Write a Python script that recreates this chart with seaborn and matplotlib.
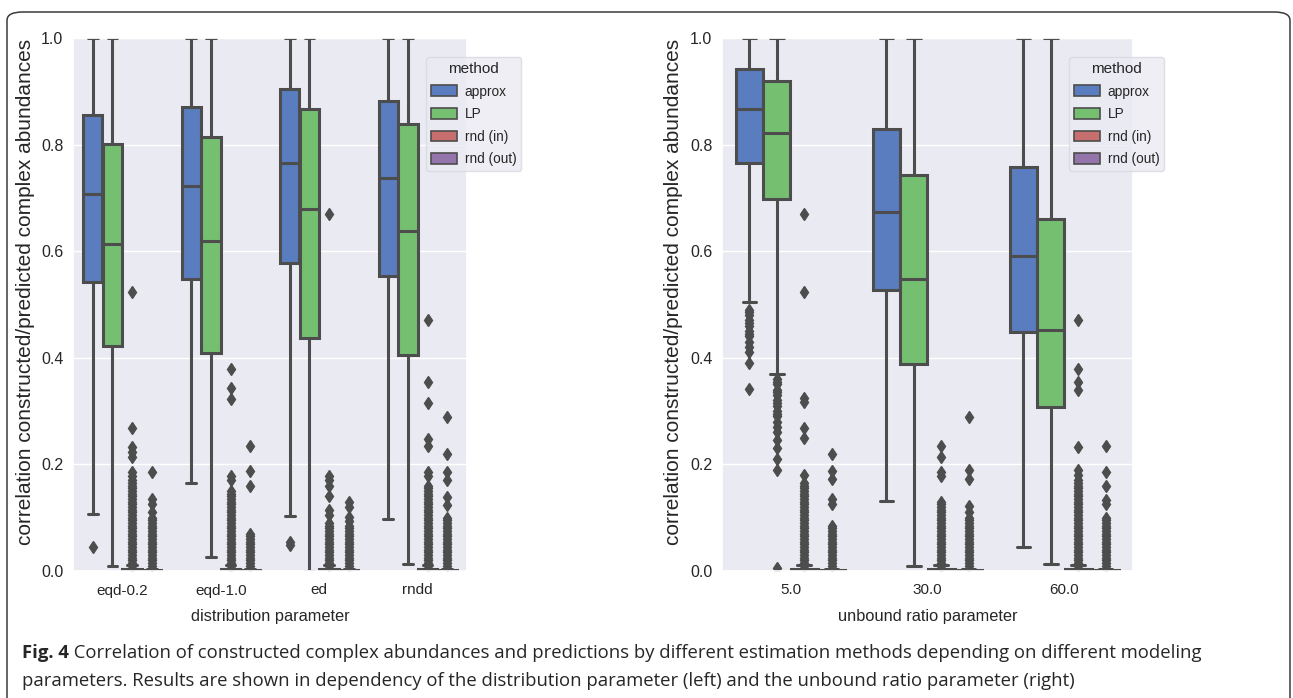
import matplotlib
matplotlib.use('Agg')
import matplotlib.pyplot as plt
from matplotlib.patches import Patch, FancyBboxPatch
import seaborn as sns

methods = ['approx', 'LP', 'rnd (in)', 'rnd (out)']

# left panel: distribution parameter
dist_params = ['eqd-0.2', 'eqd-1.0', 'ed', 'rndd']
# (whislo, q1, median, q3, whishi) per category
dist_approx = [(0.107, 0.542, 0.707, 0.855, 1.0), (0.166, 0.548, 0.722, 0.871, 1.0),
               (0.103, 0.578, 0.766, 0.904, 1.0), (0.098, 0.554, 0.737, 0.882, 1.0)]
dist_lp = [(0.010, 0.422, 0.614, 0.801, 1.0), (0.026, 0.409, 0.620, 0.815, 1.0),
           (0.0, 0.437, 0.680, 0.867, 1.0), (0.014, 0.405, 0.637, 0.838, 1.0)]
dist_rin = [(0.0, 0.0, 0.001, 0.004, 0.012)] * 4
dist_rout = [(0.0, 0.0, 0.0, 0.002, 0.004)] * 4

# the rnd outliers pile up into a solid column near zero
dense_col = [0.170, 0.165, 0.160, 0.155, 0.150, 0.145, 0.140, 0.135, 0.130, 0.125, 0.120,
             0.115, 0.110, 0.105, 0.100, 0.095, 0.090, 0.085, 0.080, 0.075, 0.070, 0.065,
             0.060, 0.055, 0.050, 0.045, 0.040, 0.035, 0.030, 0.025, 0.020, 0.015, 0.010]

dist_fl_approx = [[0.045], [], [0.055, 0.048], []]
dist_fl_lp = [[], [], [], []]
dist_fl_rin = [[0.523, 0.268, 0.233, 0.224, 0.214, 0.185, 0.178],
               [0.379, 0.343, 0.323, 0.178, 0.17],
               [0.670, 0.178, 0.170, 0.160, 0.141, 0.114, 0.105],
               [0.471, 0.355, 0.315, 0.248, 0.235, 0.186, 0.178]]
dist_rin_dense_top = [0.17, 0.15, 0.09, 0.16]
dist_fl_rout = [[0.185, 0.135, 0.125, 0.11],
                [0.235, 0.188, 0.16],
                [0.129, 0.121, 0.101, 0.094],
                [0.289, 0.219, 0.186, 0.17, 0.139, 0.124]]
dist_rout_dense_top = [0.10, 0.07, 0.085, 0.10]

# right panel: unbound ratio parameter
ratio_params = ['5.0', '30.0', '60.0']
ratio_approx = [(0.504, 0.766, 0.867, 0.941, 1.0), (0.131, 0.527, 0.674, 0.829, 1.0),
                (0.045, 0.449, 0.591, 0.758, 1.0)]
ratio_lp = [(0.370, 0.697, 0.821, 0.919, 1.0), (0.010, 0.388, 0.547, 0.743, 1.0),
            (0.014, 0.307, 0.453, 0.660, 1.0)]
ratio_rin = [(0.0, 0.0, 0.001, 0.004, 0.012)] * 3
ratio_rout = [(0.0, 0.0, 0.0, 0.002, 0.004)] * 3

ratio_fl_approx = [[0.49, 0.485, 0.48, 0.47, 0.465, 0.46, 0.45, 0.445, 0.44, 0.43, 0.42,
                    0.41, 0.39, 0.341], [], []]
ratio_fl_lp = [[0.36, 0.355, 0.35, 0.34, 0.335, 0.33, 0.32, 0.315, 0.31, 0.30, 0.295, 0.29,
                0.28, 0.27, 0.26, 0.245, 0.23, 0.21, 0.19, 0.005], [], []]
ratio_fl_rin = [[0.670, 0.523, 0.325, 0.318, 0.268, 0.250, 0.180],
                [0.235, 0.214, 0.185, 0.178],
                [0.471, 0.379, 0.355, 0.340, 0.233, 0.19, 0.18]]
ratio_rin_dense_top = [0.165, 0.13, 0.17]
ratio_fl_rout = [[0.219, 0.187, 0.172, 0.135, 0.125],
                 [0.289, 0.19, 0.172, 0.122, 0.11],
                 [0.235, 0.185, 0.16, 0.133, 0.125]]
ratio_rout_dense_top = [0.085, 0.10, 0.10]

caption_bold = 'Fig. 4'
caption_line1 = (' Correlation of constructed complex abundances and predictions by different '
                 'estimation methods depending on different modeling')
caption_line2 = ('parameters. Results are shown in dependency of the distribution parameter '
                 '(left) and the unbound ratio parameter (right)')

sns.set_theme(style='darkgrid')
plt.rcParams['font.family'] = ['Liberation Sans', 'DejaVu Sans']

pal = sns.color_palette('muted')
colors = [sns.desaturate(pal[k], 0.75) for k in (0, 2, 3, 4)]
gray = '#4d4d4d'
lw = 2.2


def with_dense(sparse, tops):
    return [s + [v for v in dense_col if v <= t] for s, t in zip(sparse, tops)]


def draw_panel(ax, cats, stats_by_method, fliers_by_method, xlabel, leg_anchor, ylab_x):
    n_hue = len(methods)
    w = 0.8 / n_hue
    for j, (stats, fliers) in enumerate(zip(stats_by_method, fliers_by_method)):
        bxp_stats = []
        pos = []
        for i, (s, fl) in enumerate(zip(stats, fliers)):
            whislo, q1, med, q3, whishi = s
            bxp_stats.append(dict(whislo=whislo, q1=q1, med=med, q3=q3, whishi=whishi,
                                  fliers=fl))
            pos.append(i + (j - (n_hue - 1) / 2) * w)
        ax.bxp(bxp_stats, positions=pos, widths=w * 0.98, patch_artist=True,
               manage_ticks=False,
               boxprops=dict(facecolor=colors[j], edgecolor=gray, linewidth=lw),
               medianprops=dict(color=gray, linewidth=lw),
               whiskerprops=dict(color=gray, linewidth=lw),
               capprops=dict(color=gray, linewidth=lw),
               flierprops=dict(marker='d', markerfacecolor=gray, markeredgecolor=gray,
                               markersize=6.5, linestyle='none'))
    ax.set_xlim(-0.5, len(cats) - 0.5)
    ax.set_ylim(0, 1)
    ax.set_xticks(range(len(cats)))
    ax.set_xticklabels(cats, fontsize=11)
    ax.set_yticks([0.0, 0.2, 0.4, 0.6, 0.8, 1.0])
    ax.set_yticklabels(['0.0', '0.2', '0.4', '0.6', '0.8', '1.0'], fontsize=11.5)
    ax.tick_params(axis='x', pad=9, length=0)
    ax.tick_params(axis='y', pad=7, length=0)
    ax.grid(axis='x', visible=False)
    ax.set_xlabel(xlabel, fontsize=11.8, labelpad=8)
    ax.set_ylabel('correlation constructed/predicted complex abundances', fontsize=15)
    ax.yaxis.set_label_coords(ylab_x, 0.524)
    handles = [Patch(facecolor=colors[k], edgecolor=gray, linewidth=1.2, label=m)
               for k, m in enumerate(methods)]
    leg = ax.legend(handles=handles, title='method', loc='upper left',
                    bbox_to_anchor=leg_anchor, borderaxespad=0,
                    prop=dict(size=9.8), frameon=True, borderpad=0.35,
                    handlelength=1.9, handleheight=0.85, handletextpad=0.6,
                    labelspacing=0.63)
    leg.get_title().set_fontsize(11)
    leg.get_frame().set_facecolor('#eaeaf2')
    leg.get_frame().set_edgecolor('#d8d8e2')


fig = plt.figure(figsize=(12.93, 6.98), dpi=100)
W, H = 1293, 698
ax1 = fig.add_axes([73 / W, (H - 571) / H, 394 / W, 533 / H])
ax2 = fig.add_axes([722 / W, (H - 571) / H, 411 / W, 533 / H])

draw_panel(ax1, dist_params, [dist_approx, dist_lp, dist_rin, dist_rout],
           [dist_fl_approx, dist_fl_lp, with_dense(dist_fl_rin, dist_rin_dense_top),
            with_dense(dist_fl_rout, dist_rout_dense_top)],
           'distribution parameter', (0.896, 0.964), -0.096)
draw_panel(ax2, ratio_params, [ratio_approx, ratio_lp, ratio_rin, ratio_rout],
           [ratio_fl_approx, ratio_fl_lp, with_dense(ratio_fl_rin, ratio_rin_dense_top),
            with_dense(ratio_fl_rout, ratio_rout_dense_top)],
           'unbound ratio parameter', (0.844, 0.964), -0.095)

# rounded frame around the figure
frame = FancyBboxPatch((7 / W, -0.05), 1283 / W, (H - 12) / H + 0.05,
                       boxstyle='round,pad=0,rounding_size=0.012',
                       transform=fig.transFigure, facecolor='none',
                       edgecolor='#3a3a3a', linewidth=1.1, clip_on=False)
fig.patches.append(frame)

cap_font = ['Open Sans', 'DejaVu Sans']
cap_size = 13.3
t1 = fig.text(22 / W, (H - 658) / H, caption_bold, fontsize=cap_size, fontweight='bold',
              family=cap_font, va='baseline', ha='left')
plt.annotate(caption_line1, xy=(1, 0), xycoords=t1, va='bottom', ha='left',
             fontsize=cap_size, family=cap_font, annotation_clip=False)
fig.text(22 / W, (H - 686) / H, caption_line2, fontsize=cap_size, family=cap_font,
         va='baseline', ha='left')

fig.savefig('out.png', dpi=100)
